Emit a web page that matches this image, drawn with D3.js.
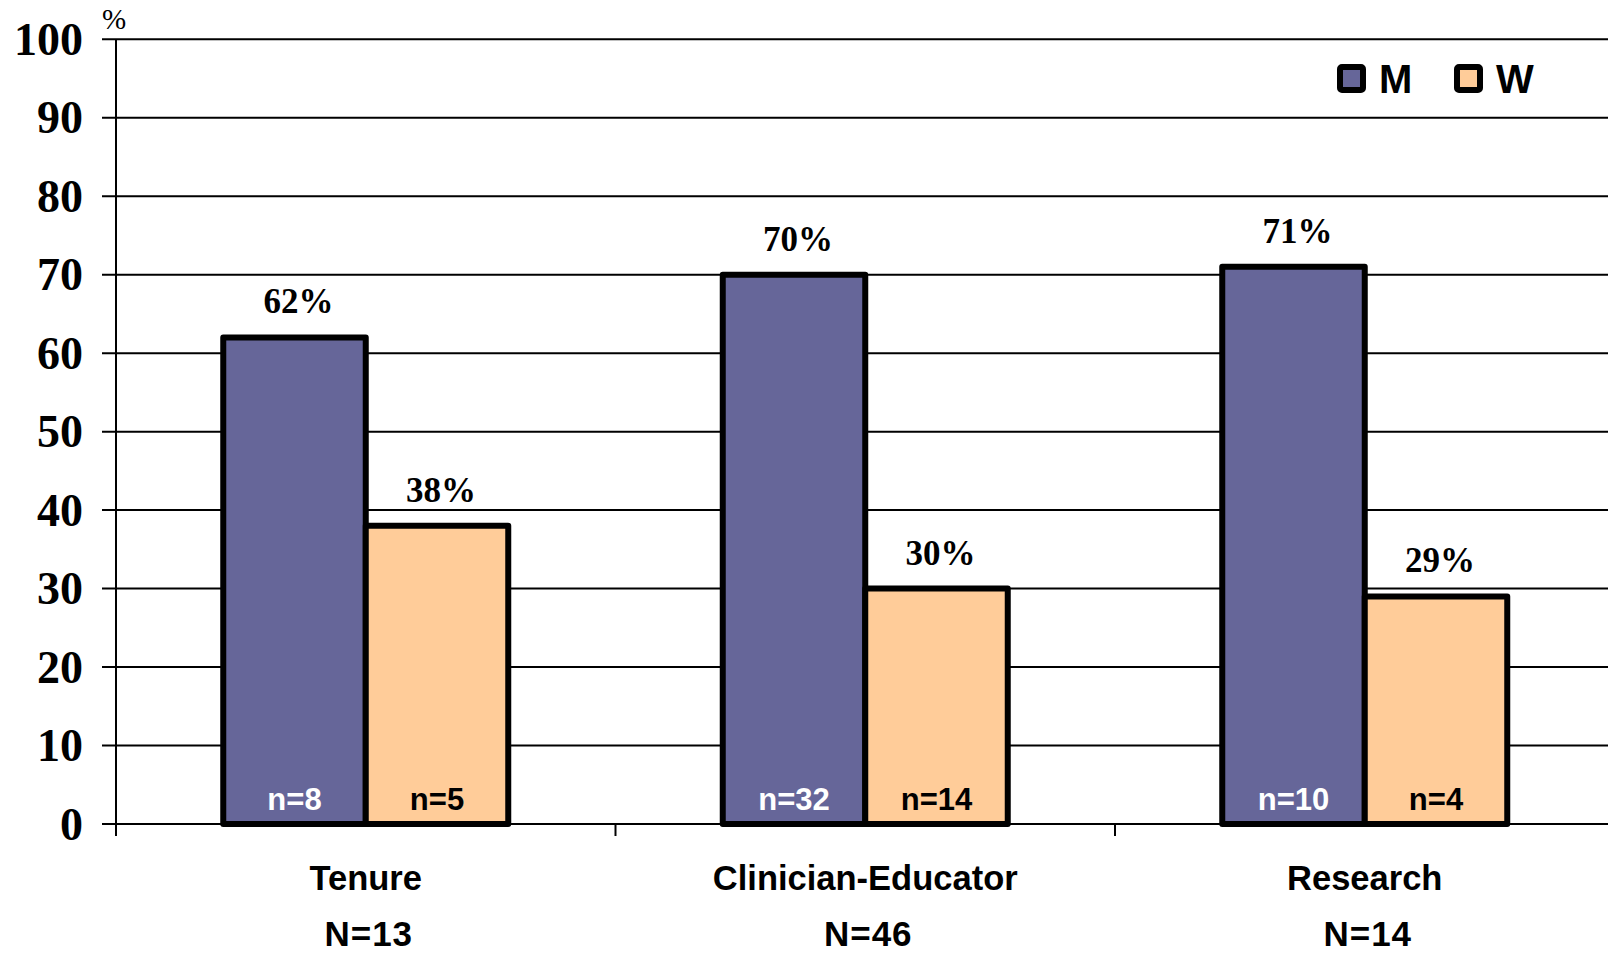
<!DOCTYPE html>
<html><head><meta charset="utf-8">
<script src="https://cdn.jsdelivr.net/npm/d3@7"></script>
<style>html,body{margin:0;padding:0;background:#fff;overflow:hidden;}svg{display:block;}</style>
</head><body>
<svg id="c" width="1608" height="955"></svg>
<script>
const categories = ["Tenure", "Clinician-Educator", "Research"];
const totals = ["N=13", "N=46", "N=14"];
const seriesNames = ["M", "W"];
const valuesM = [62, 70, 71];
const valuesW = [38, 30, 29];
const countsM = ["n=8", "n=32", "n=10"];
const countsW = ["n=5", "n=14", "n=4"];
const yTicks = [0, 10, 20, 30, 40, 50, 60, 70, 80, 90, 100];
const colors = {M: "#666699", W: "#FFCC99"};
const countColors = {M: "#ffffff", W: "#000000"};

(function () {
const svg = d3.select("#c");
const pLeft = 116, pRight = 1614.5, pTop = 39.3, pBottom = 824;
const x = d3.scaleBand().domain(categories).range([pLeft, pRight]).paddingInner(0).paddingOuter(0);
const y = d3.scaleLinear().domain([0, 100]).range([pBottom, pTop]);
const barW = 142.5;
const sub = d3.scaleBand().domain(seriesNames).range([-barW, barW]);

const serif = "'Liberation Serif','Times New Roman',serif";
const sans = "'Liberation Sans',Arial,sans-serif";

// gridlines
svg.append("g").selectAll("line").data(yTicks).join("line")
  .attr("x1", pLeft - 14).attr("x2", 1608)
  .attr("y1", d => y(d)).attr("y2", d => y(d))
  .attr("stroke", "#000").attr("stroke-width", 2);

// y axis
const yAxis = d3.axisLeft(y).tickValues(yTicks).tickSize(0).tickPadding(0).tickFormat(d3.format("d"));
const gy = svg.append("g").attr("transform", `translate(${pLeft},0)`).call(yAxis);
gy.select(".domain").remove();
gy.selectAll("text").attr("x", -33).attr("dy", "0.33em")
  .attr("font-family", serif).attr("font-weight", "bold").attr("font-size", 46).attr("fill", "#000");
svg.append("line").attr("x1", pLeft).attr("x2", pLeft).attr("y1", pTop).attr("y2", pBottom + 12)
  .attr("stroke", "#000").attr("stroke-width", 2);
svg.append("text").attr("x", 102).attr("y", 29).text("%")
  .attr("font-family", serif).attr("font-size", 29).attr("fill", "#000");

// x axis ticks at band boundaries
const xb = categories.map(c => x(c)).slice(1);
svg.append("g").selectAll("line").data(xb).join("line")
  .attr("x1", d => d).attr("x2", d => d).attr("y1", pBottom).attr("y2", pBottom + 12)
  .attr("stroke", "#000").attr("stroke-width", 2);

// bars
const rows = [];
categories.forEach((c, i) => {
  rows.push({cat: c, s: "M", v: valuesM[i], n: countsM[i]});
  rows.push({cat: c, s: "W", v: valuesW[i], n: countsW[i]});
});
const cx = d => x(d.cat) + x.bandwidth() / 2 + sub(d.s);
const g = svg.append("g");
g.selectAll("rect").data(rows).join("rect")
  .attr("x", cx).attr("width", sub.bandwidth())
  .attr("y", d => y(d.v)).attr("height", d => y(0) - y(d.v))
  .attr("fill", d => colors[d.s]).attr("stroke", "#000").attr("stroke-width", 6)
  .attr("stroke-linejoin", "round");

// value labels
g.selectAll("text.val").data(rows).join("text").attr("class", "val")
  .attr("x", d => cx(d) + sub.bandwidth() / 2 + 4).attr("y", d => y(d.v) - 24)
  .attr("text-anchor", "middle").text(d => d.v + "%")
  .attr("font-family", serif).attr("font-weight", "bold").attr("font-size", 35).attr("fill", "#000");

// count labels
g.selectAll("text.cnt").data(rows).join("text").attr("class", "cnt")
  .attr("x", d => cx(d) + sub.bandwidth() / 2).attr("y", pBottom - 14)
  .attr("text-anchor", "middle").text(d => d.n)
  .attr("font-family", sans).attr("font-weight", "bold").attr("font-size", 31)
  .attr("fill", d => countColors[d.s]);

// category labels
svg.append("g").selectAll("text").data(categories).join("text")
  .attr("x", d => x(d) + x.bandwidth() / 2).attr("y", 890)
  .attr("text-anchor", "middle").text(d => d)
  .attr("font-family", sans).attr("font-weight", "bold").attr("font-size", 34.5);
svg.append("g").selectAll("text").data(totals).join("text")
  .attr("x", (d, i) => x(categories[i]) + x.bandwidth() / 2 + 3).attr("y", 946)
  .attr("text-anchor", "middle").text(d => d)
  .attr("font-family", sans).attr("font-weight", "bold").attr("font-size", 35).attr("letter-spacing", 1);

// legend
const legX = [1337, 1454];
const lg = svg.append("g").selectAll("g").data(seriesNames).join("g")
  .attr("transform", (d, i) => `translate(${legX[i]},64)`);
lg.append("rect").attr("x", 3).attr("y", 3).attr("width", 23).attr("height", 23).attr("rx", 2)
  .attr("fill", d => colors[d]).attr("stroke", "#000").attr("stroke-width", 6);
lg.append("text").attr("x", 42).attr("y", 29).text(d => d)
  .attr("font-family", sans).attr("font-weight", "bold").attr("font-size", 40);
})();
</script>
</body></html>
